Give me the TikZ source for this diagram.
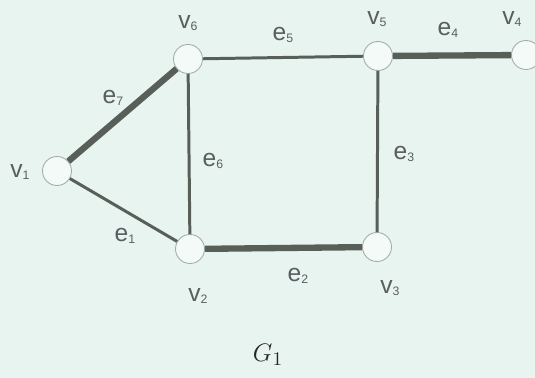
\documentclass[tikz,border=0pt]{standalone}
\usepackage{fontspec}
\setmainfont{Liberation Sans}
\usepackage{tikz}
\usetikzlibrary{positioning}
\definecolor{bgmint}{RGB}{232,244,240}
\definecolor{edgegrey}{RGB}{88,94,88}
\definecolor{labelgrey}{RGB}{90,94,96}
\definecolor{ringgrey}{RGB}{165,172,170}
\newcommand{\lbl}[2]{{\fontsize{14}{14}\selectfont #1}\raisebox{-1pt}{\fontsize{7}{7}\selectfont #2}}

\begin{document}
\begin{tikzpicture}[x=0.02cm, y=-0.02cm,
    vertex/.style={circle, draw=ringgrey, line width=0.5pt, fill=bgmint!50!white,
                   minimum size=0.58cm, inner sep=0pt},
    edge/.style={draw=edgegrey, line width=1.7pt},
    heavy/.style={edge, line width=3.6pt},
    tag/.style={text=labelgrey, inner sep=0pt}
]
    \fill[bgmint] (0,0) rectangle (535,378);
    \useasboundingbox (0,0) rectangle (535,378);

    \node[vertex] (v1) at (57,171) {};
    \node[vertex] (v2) at (190,249) {};
    \node[vertex] (v3) at (377,247) {};
    \node[vertex] (v4) at (526,55) {};
    \node[vertex] (v5) at (378,56) {};
    \node[vertex] (v6) at (188,59) {};

    \draw[edge] (v1) -- (v2);
    \draw[heavy] (v2) -- (v3);
    \draw[edge] (v3) -- (v5);
    \draw[heavy] (v5) -- (v4);
    \draw[edge] (v6) -- (v5);
    \draw[edge] (v6) -- (v2);
    \draw[heavy] (v1) -- (v6);

    \node[tag] (l1) at (20,172) {\lbl{v}{1}};
    \node[tag] (l2) at (198,296) {\lbl{v}{2}};
    \node[tag] (l3) at (390,288) {\lbl{v}{3}};
    \node[tag] (l4) at (512,19) {\lbl{v}{4}};
    \node[tag] (l5) at (377,19) {\lbl{v}{5}};
    \node[tag] (l6) at (188,23) {\lbl{v}{6}};

    \node[tag] (t1) at (125,236) {\lbl{e}{1}};
    \node[tag] (t2) at (298,276) {\lbl{e}{2}};
    \node[tag] (t3) at (404,154) {\lbl{e}{3}};
    \node[tag] (t4) at (448,30) {\lbl{e}{4}};
    \node[tag] (t5) at (283,35) {\lbl{e}{5}};
    \node[tag] (t6) at (213,161) {\lbl{e}{6}};
    \node[tag] (t7) at (113,98) {\lbl{e}{7}};

    \node[text=black!85] (g1) at (268,355) {\fontsize{15}{15}\selectfont$G_1$};
\end{tikzpicture}
\end{document}
